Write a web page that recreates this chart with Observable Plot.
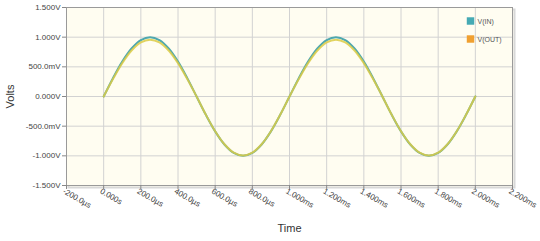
<!DOCTYPE html>
<html><head><meta charset="utf-8">
<script src="https://cdn.jsdelivr.net/npm/d3@7"></script>
<script src="https://cdn.jsdelivr.net/npm/@observablehq/plot@0.6"></script>
<style>
html,body{margin:0;padding:0;background:#fff;}
svg{font-family:"Liberation Sans",Arial,sans-serif;}
</style>
</head><body><div id="chart"></div>
<script>
const timeMs = [0,0.05,0.1,0.15,0.2,0.25,0.3,0.35,0.4,0.45,0.5,0.55,0.6,0.65,0.7,0.75,0.8,0.85,0.9,0.95,1.0,
  1.05,1.1,1.15,1.2,1.25,1.3,1.35,1.4,1.45,1.5,1.55,1.6,1.65,1.7,1.75,1.8,1.85,1.9,1.95,2.0];
const vIn = [0,0.309,0.588,0.809,0.951,1.0,0.951,0.809,0.588,0.309,0,-0.309,-0.588,-0.809,-0.951,-1.0,-0.951,-0.809,-0.588,-0.309,0,
  0.309,0.588,0.809,0.951,1.0,0.951,0.809,0.588,0.309,0,-0.309,-0.588,-0.809,-0.951,-1.0,-0.951,-0.809,-0.588,-0.309,0];
const vOut = [0,0.294,0.562,0.775,0.912,0.958,0.912,0.775,0.562,0.294,0,-0.307,-0.585,-0.805,-0.946,-0.995,-0.946,-0.805,-0.585,-0.307,0,
  0.294,0.562,0.775,0.912,0.958,0.912,0.775,0.562,0.294,0,-0.307,-0.585,-0.805,-0.946,-0.995,-0.946,-0.805,-0.585,-0.307,0];
const xTicks = [-0.2,0,0.2,0.4,0.6,0.8,1.0,1.2,1.4,1.6,1.8,2.0,2.2];
const xTickLabels = ["-200.0µs","0.000s","200.0µs","400.0µs","600.0µs","800.0µs","1.000ms","1.200ms","1.400ms","1.600ms","1.800ms","2.000ms","2.200ms"];
const yTicks = [-1.5,-1.0,-0.5,0,0.5,1.0,1.5];
const yTickLabels = ["-1.500V","-1.000V","-500.0mV","0.000V","500.0mV","1.000V","1.500V"];
const seriesNames = ["V(IN)","V(OUT)"];
const seriesColors = ["#45aab4","#f0a030"];
const lineColors = ["#4fa8ae","#dccb45"];

const dIn = timeMs.map((t,i)=>({t, v:vIn[i]}));
const dOut = timeMs.map((t,i)=>({t, v:vOut[i]}));
const xLab = new Map(xTicks.map((t,i)=>[t,xTickLabels[i]]));
const yLab = new Map(yTicks.map((t,i)=>[t,yTickLabels[i]]));

const legendMarks = seriesNames.flatMap((name,i)=>[
  Plot.dot([name], {frameAnchor: "top-right", dx: -42, dy: 13.5 + 18*i, fill: seriesColors[i], symbol: "square", r: 4.2}),
  Plot.text([name], {frameAnchor: "top-right", dx: -35, dy: 11.5 + 18*i, text: d=>d, textAnchor: "start", fontSize: 7, fill: "#555"})
]);

const chart = Plot.plot({
  width: 540, height: 241,
  marginLeft: 66, marginRight: 28, marginTop: 7, marginBottom: 56,
  style: {fontSize: "8px", color: "#444", background: "#fff"},
  x: {domain: [-0.2, 2.2]},
  y: {domain: [-1.5, 1.5]},
  marks: [
    Plot.frame({fill: "#fffdf1", stroke: "#d8d8d8", dx: 2, dy: 2, strokeWidth: 2}),
    Plot.frame({fill: "#fffdf1", stroke: "none"}),
    Plot.gridX(xTicks, {stroke: "#d2d2d2", strokeOpacity: 1}),
    Plot.gridY(yTicks, {stroke: "#d2d2d2", strokeOpacity: 1}),
    Plot.frame({stroke: "#9a9a9a", strokeWidth: 1}),
    Plot.axisY(yTicks, {label: null, tickFormat: d => yLab.get(d), tickSize: 4, tickPadding: 2, stroke: "#888", fill: "#444", fontSize: 8}),
    Plot.axisY({label: "Volts", ticks: [], tickSize: 0, labelAnchor: "center", labelOffset: 60, labelArrow: false, fontSize: 11, fill: "#333"}),
    Plot.axisX(xTicks, {label: null, tickFormat: () => "", tickSize: 4, stroke: "#888"}),
    Plot.axisX(xTicks, {label: null, tickFormat: d => xLab.get(d), tickSize: 0, tickRotate: 30, tickPadding: 5, dx: -3, fill: "#444", fontSize: 8}),
    Plot.axisX({label: "Time", ticks: [], tickSize: 0, labelAnchor: "center", labelOffset: 46, labelArrow: false, fontSize: 11, fill: "#333"}),
    Plot.line(dIn, {x: "t", y: "v", stroke: lineColors[0], strokeWidth: 2, curve: "catmull-rom"}),
    Plot.line(dOut, {x: "t", y: "v", stroke: lineColors[1], strokeWidth: 2, strokeOpacity: 0.85, curve: "catmull-rom"}),
    ...legendMarks
  ]
});
document.getElementById("chart").append(chart);
</script>
</body></html>
